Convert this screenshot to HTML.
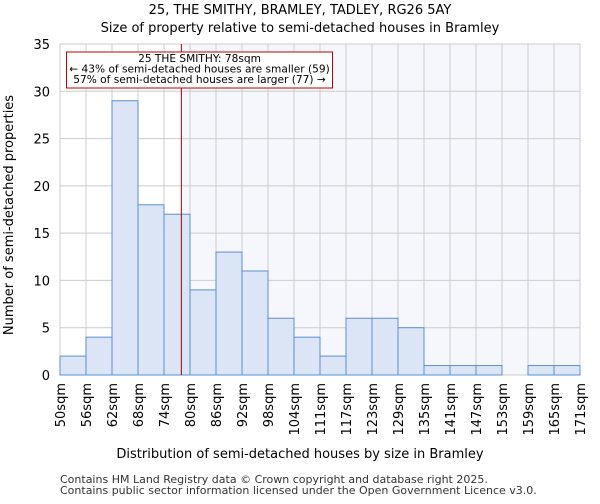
<!DOCTYPE html>
<html><head><meta charset="utf-8"><style>
body{margin:0;background:#fff;font-family:"DejaVu Sans","Liberation Sans",sans-serif}
</style></head><body>
<svg width="600" height="500" xmlns="http://www.w3.org/2000/svg" font-family="DejaVu Sans, Liberation Sans, sans-serif">
<text x="300" y="14" text-anchor="middle" font-size="13">25, THE SMITHY, BRAMLEY, TADLEY, RG26 5AY</text>
<text x="300" y="32" text-anchor="middle" font-size="13">Size of property relative to semi-detached houses in Bramley</text>
<g id="plot"></g>
<text x="300" y="458" text-anchor="middle" font-size="13">Distribution of semi-detached houses by size in Bramley</text>
<text transform="translate(13,215) rotate(-90)" text-anchor="middle" font-size="13">Number of semi-detached properties</text>
<text x="60" y="483" font-size="11" fill="#333">Contains HM Land Registry data © Crown copyright and database right 2025.</text>
<text x="60" y="494" font-size="11" fill="#333">Contains public sector information licensed under the Open Government Licence v3.0.</text>
</svg>
<script>
const categories=["50sqm","56sqm","62sqm","68sqm","74sqm","80sqm","86sqm","92sqm","98sqm","104sqm","111sqm","117sqm","123sqm","129sqm","135sqm","141sqm","147sqm","153sqm","159sqm","165sqm","171sqm"];
const binStarts=[50,56,62,68,74,80,86,92,98,104,111,117,123,129,135,141,147,153,159,165,171];
const counts=[2,4,29,18,17,9,13,11,6,4,2,6,6,5,1,1,1,0,1,1];
const yTicks=[0,5,10,15,20,25,30,35];
const markerValue=78;
const NS="http://www.w3.org/2000/svg";
const g=document.getElementById('plot');
const X0=60,X1=580,Y0=375,Y1=44,YMAX=35;
const nb=counts.length,bw=(X1-X0)/nb;
const xi=i=>X0+i*bw;
const y=v=>Y0-(v/YMAX)*(Y0-Y1);
function xv(v){for(let i=0;i<nb;i++){if(v<binStarts[i+1])return xi(i)+(v-binStarts[i])/(binStarts[i+1]-binStarts[i])*bw;}return X1;}
function el(t,a){const e=document.createElementNS(NS,t);for(const k in a)e.setAttribute(k,a[k]);g.appendChild(e);return e;}
const mx=xv(markerValue);
let e=el('rect',{x:mx,y:Y1,width:X1-mx,height:Y0-Y1,fill:'#f5f7fd'});


yTicks.forEach(t=>{let l=el('line',{x1:X0,x2:X1,y1:y(t),y2:y(t),stroke:'#ccc'});


let tx=el('text',{x:X0-10,y:y(t)+5,'text-anchor':'end','font-size':13});tx.textContent=t;

});
categories.forEach((c,i)=>{let l=el('line',{x1:xi(i),x2:xi(i),y1:Y1,y2:Y0,stroke:'#ccc'});


let tx=el('text',{transform:`translate(${xi(i)+5},${Y0+8}) rotate(-90)`,'text-anchor':'end','font-size':13});tx.textContent=c;

});
counts.forEach((v,i)=>{if(v<=0)return;let r=el('rect',{x:xi(i),y:y(v),width:bw,height:Y0-y(v),fill:'#dce5f5',stroke:'#5b8fd0','stroke-width':1});

});
e=el('line',{x1:mx,x2:mx,y1:Y1,y2:Y0,stroke:'#a00000','stroke-width':1});


e=el('rect',{x:66.5,y:52,width:266,height:36,fill:'#fff',stroke:'#c00000'});


["25 THE SMITHY: 78sqm","← 43% of semi-detached houses are smaller (59)","57% of semi-detached houses are larger (77) →"].forEach((s,k)=>{let t=el('text',{x:199.5,y:62+k*10.5,'text-anchor':'middle','font-size':10.6});t.textContent=s;

});
</script>
</body></html>
